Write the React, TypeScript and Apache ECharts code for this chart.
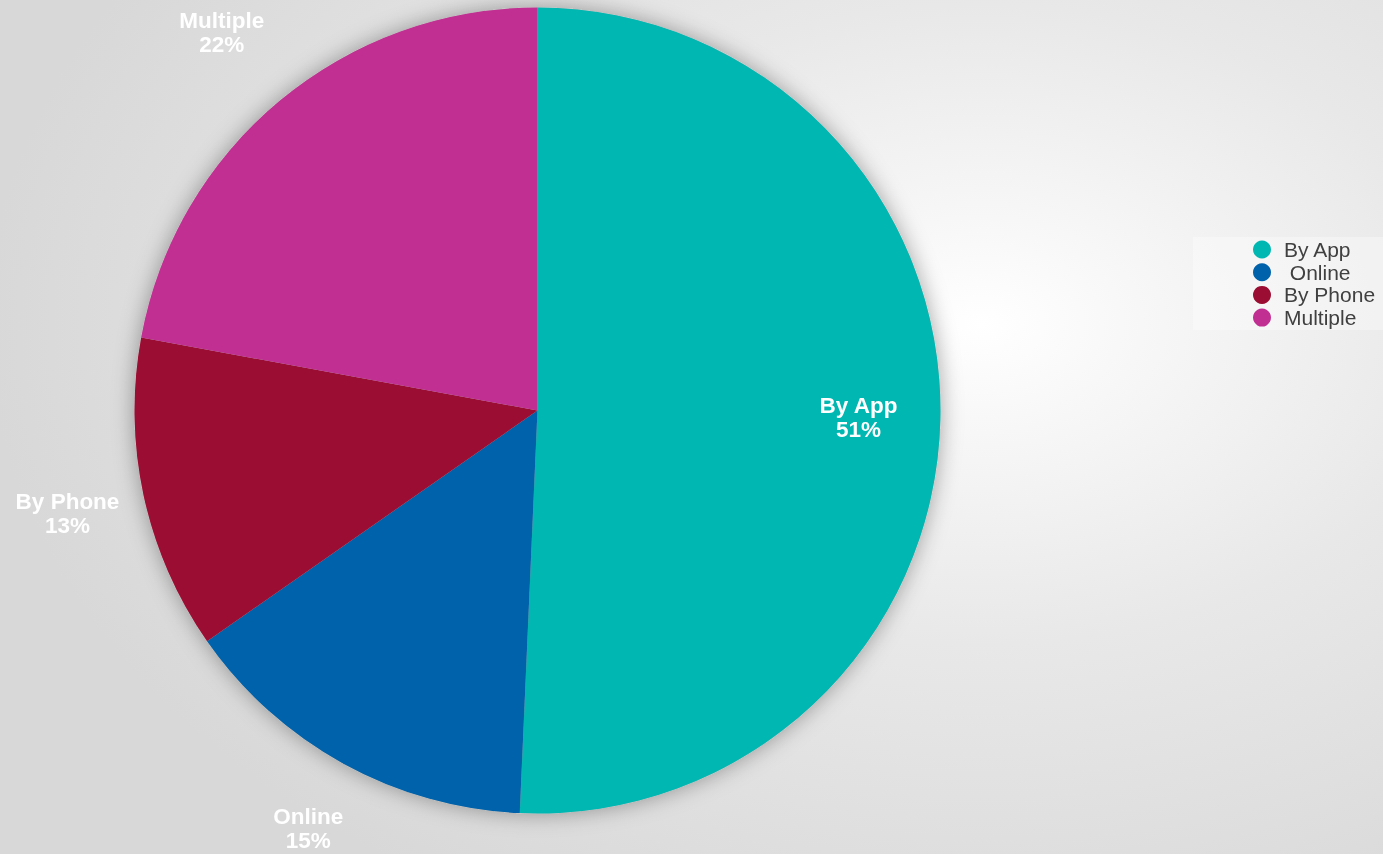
import React, { useEffect, useRef } from "react";
import * as echarts from "echarts";

const categories = ["By App", "Online", "By Phone", "Multiple"];
const values = [50.7, 14.6, 12.6, 22.1];
const colors = ["#00B7B1", "#0062AA", "#9B0D32", "#C02F91"];
const insideLabelled = ["By App"];

const FONT = "'Liberation Sans', Arial, sans-serif";

// fine nudges of the outside label boxes (padding shifts the centred text sideways,
// a trailing spacer line lifts it)
const labelPadding: Record<string, number[]> = {
  Multiple: [0, 12, 0, 0],
  Online: [0, 0, 0, 8],
  "By Phone": [0, 0, 0, 6],
};
const liftLabel = ["Multiple", "Online"];

export default function App() {
  const ref = useRef<HTMLDivElement>(null);
  useEffect(() => {
    if (!ref.current) return;
    const chart = echarts.init(ref.current, null, { renderer: "svg" });
    const total = values.reduce((a, b) => a + b, 0);
    const center = [537.5, 410.5];
    const R = 403;
    const labelStyle = {
      color: "#ffffff",
      fontFamily: FONT,
      fontWeight: "bold" as const,
      fontSize: 22.5,
      lineHeight: 24,
      formatter: (p: any) =>
        `${p.name}\n${Math.round(p.value)}%` +
        (liftLabel.includes(p.name) ? "\n{sp| }" : ""),
      rich: {
        sp: { fontSize: 2, lineHeight: 12 },
      },
    };
    chart.setOption({
      animation: false,
      backgroundColor: "transparent",
      legend: {
        orient: "vertical",
        left: 1193,
        top: 237,
        padding: [2, 9, 2, 60],
        backgroundColor: "rgba(255,255,255,0.35)",
        icon: "circle",
        itemWidth: 18,
        itemHeight: 18,
        itemGap: 1.7,
        selectedMode: false,
        data: categories,
        formatter: (n: string) => (n === "Online" ? "\u00a0" + n : n),
        textStyle: {
          fontFamily: FONT,
          fontSize: 21,
          lineHeight: 20,
          color: "#404040",
          padding: [0, 0, 0, 8],
        },
      },
      series: [
        {
          type: "pie",
          name: "backdrop",
          center,
          radius: R,
          silent: true,
          label: { show: false },
          labelLine: { show: false },
          itemStyle: {
            color: "#bbbbbb",
            shadowBlur: 22,
            shadowColor: "rgba(0,0,0,0.35)",
          },
          data: [{ name: "", value: total }],
        },
        {
          type: "pie",
          name: "main",
          center,
          radius: R,
          startAngle: 90,
          clockwise: true,
          silent: true,
          label: { show: false },
          labelLine: { show: false },
          itemStyle: { borderWidth: 0 },
          emphasis: { disabled: true },
          data: categories.map((name, i) => ({
            name,
            value: values[i],
            itemStyle: { color: colors[i] },
          })),
        },
        {
          type: "pie",
          name: "insideLabels",
          center,
          radius: [236, 400],
          startAngle: 90,
          silent: true,
          labelLine: { show: false },
          itemStyle: { color: "rgba(0,0,0,0)" },
          emphasis: { disabled: true },
          label: { ...labelStyle, position: "inside" },
          data: categories.map((name, i) => ({
            name,
            value: values[i],
            label: { show: insideLabelled.includes(name) },
          })),
        },
        {
          type: "pie",
          name: "outsideLabels",
          center,
          radius: [462, 500],
          startAngle: 90,
          silent: true,
          labelLine: { show: false },
          itemStyle: { color: "rgba(0,0,0,0)" },
          emphasis: { disabled: true },
          label: { ...labelStyle, position: "inside" },
          data: categories.map((name, i) => ({
            name,
            value: values[i],
            label: {
              show: !insideLabelled.includes(name),
              padding: labelPadding[name] || 0,
            },
          })),
        },
      ],
    });
    return () => chart.dispose();
  }, []);
  return (
    <div
      style={{
        position: "fixed",
        left: 0,
        top: 0,
        width: 1383,
        height: 854,
        background:
          "radial-gradient(ellipse 72% 78% at 71% 38%, #ffffff 0%, #f8f8f8 14%, #e8e8e8 48%, #d8d8d8 100%)",
      }}
    >
      <div ref={ref} style={{ width: 1383, height: 854 }} />
    </div>
  );
}
